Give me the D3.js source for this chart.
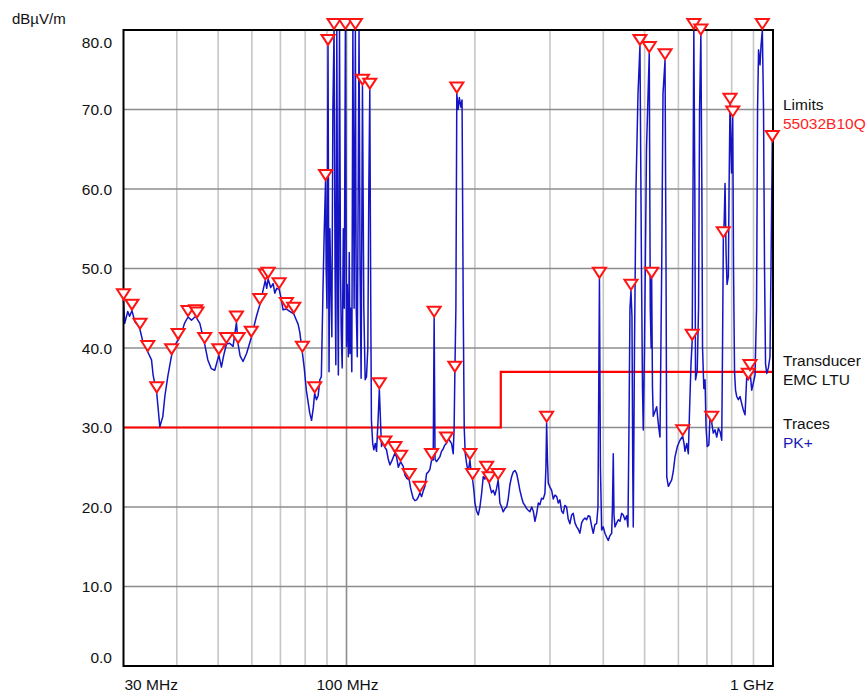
<!DOCTYPE html>
<html>
<head>
<meta charset="utf-8">
<script src="https://cdn.jsdelivr.net/npm/d3@7/dist/d3.min.js"></script>
<style>
  body { margin: 0; background: #ffffff; }
  text { font-family: "Liberation Sans", Arial, sans-serif; }
</style>
</head>
<body>
<div id="emc-chart"></div>
<script>
// measured peak trace (frequency in MHz, level in dBuV/m)
var traceFreq = [
  30.0, 30.2, 30.7, 31.0, 31.4, 31.9, 32.6, 32.8, 33.3, 34.2, 34.9, 35.2, 35.9, 36.5, 37.1, 37.5, 38.1, 38.9, 39.6, 40.3,
  41.0, 41.7, 42.5, 43.3, 44.3, 44.6, 45.3, 46.5, 47.3, 48.2, 49.1, 50.2, 50.9, 51.5, 52.3, 53.2, 54.2, 55.2, 55.7, 56.3,
  57.2, 58.3, 59.8, 61.5, 62.6, 64.5, 65.0, 65.5, 66.4, 67.3, 67.9, 68.6, 69.5, 70.1, 71.0, 72.3, 73.6, 75.2, 76.3, 77.0,
  77.7, 78.8, 79.6, 80.5, 82.0, 82.8, 83.6, 84.2, 85.0, 85.8, 86.6, 87.3,
  87.7, 88.1, 88.7, 89.3, 89.6, 90.0, 90.5, 91.0, 91.4, 91.9, 92.4, 92.9, 93.5, 94.0, 94.4, 94.9, 95.4, 95.7, 96.3, 96.8,
  97.2, 97.7, 98.3, 98.8, 99.4, 100.0, 100.4, 101.0, 101.5, 101.9, 102.3, 102.9, 103.5, 104.2, 104.9, 105.4, 106.0, 107.0,
  107.6, 108.2, 109.0, 109.8, 110.6, 111.4, 112.2, 112.8, 113.4, 114.0, 114.4, 115.2, 115.9,
  116.8, 117.6, 118.6, 119.4, 120.3, 120.8, 121.7, 123.0, 124.1, 125.3, 126.4, 127.7, 129.9, 131.0, 132.3, 133.9, 135.8,
  137.1, 138.5, 140.3, 141.2, 141.9, 143.3, 144.7, 146.0, 147.2, 148.6, 150.0, 151.3, 152.7, 154.1, 155.5, 156.8, 158.3,
  159.7, 160.5, 161.3, 162.6, 164.0, 165.5, 167.0, 168.5, 170.0, 171.6, 173.2, 174.7, 176.3, 177.9, 178.8, 179.5, 180.5,
  181.4, 182.7, 183.9, 185.4, 186.6, 187.8, 188.8, 189.8, 191.2, 192.9, 194.7, 196.5, 197.6, 199.0, 200.0, 201.9, 203.7,
  205.5, 207.4, 209.2, 211.1, 213.1, 214.6, 216.1, 216.9, 218.9, 220.8, 222.8, 224.8, 226.8, 227.9, 228.9, 231.0, 233.0,
  235.2, 237.4, 239.4, 241.6, 243.8, 246.0, 248.3, 250.6, 252.8, 255.0, 257.4, 259.6, 262.0, 264.4, 266.7, 269.2, 271.7,
  274.1, 276.6, 279.2, 281.6, 284.1, 286.7, 289.2, 291.9, 293.5, 294.6, 295.9, 297.2, 299.9, 302.7, 305.4, 308.2, 311.1,
  313.8, 316.5,
  319.4, 322.2, 325.1, 328.1, 331.0, 334.1, 337.2, 340.1, 343.3, 346.5, 349.5, 352.6, 355.9, 359.1, 362.3, 365.6, 368.8,
  372.2, 375.6, 378.9, 382.4, 385.9, 388.7, 391.8, 393.9, 396.5, 399.9, 403.6, 407.4, 410.9, 414.7, 418.5, 420.3, 422.2,
  423.8, 426.1, 430.0, 433.8, 437.7, 441.7, 445.6, 449.7, 453.8, 457.0, 459.5, 462.0, 464.5, 467.0, 469.0, 470.3, 473.4,
  477.2, 482.5, 487.6, 491.6, 494.3, 496.4, 499.7, 505.1, 512.7, 515.5, 518.0, 519.4, 521.7, 523.9, 528.8, 533.7, 538.3,
  543.3, 548.3, 552.2, 558.3, 561.3, 563.5, 568.4, 573.4, 578.7, 583.8, 589.2, 596.6, 605.2, 614.1, 618.4, 621.8, 627.6,
  633.1, 637.2, 642.3, 646.5, 649.3, 652.2, 655.7, 658.2, 664.3, 669.0, 672.7, 677.4, 681.1, 683.6, 688.4, 692.9, 696.7,
  701.2, 707.3, 711.7, 718.3, 724.5, 731.3, 738.0, 744.5, 751.2, 758.2, 761.5, 764.8, 768.5, 771.9, 776.1, 780.3, 785.8,
  788.8, 792.9, 799.4, 804.6, 808.1, 812.5, 816.9, 822.2, 829.4, 836.9, 844.6, 852.0, 859.9, 867.8, 875.4, 883.3, 891.5,
  899.3, 907.6, 915.0, 920.0, 925.0, 932.3, 937.4, 944.0, 950.2, 955.3, 960.5, 966.8, 975.3, 983.9, 989.2, 996.2, 1000
];
var traceLevel = [
  46.0, 43.1, 44.6, 44.0, 44.7, 43.3, 42.7, 42.3, 40.8, 39.5, 38.5, 36.6, 34.3, 30.1, 31.4, 33.9, 36.4, 39.1, 40.4, 41.0,
  41.8, 43.1, 43.9, 43.5, 44.0, 43.7, 43.1, 40.5, 38.5, 37.4, 37.2, 39.1, 37.6, 39.0, 40.5, 40.6, 40.2, 43.2, 40.5, 39.0,
  38.3, 39.3, 41.3, 44.0, 45.4, 48.5, 47.5, 48.7, 47.6, 48.1, 46.9, 47.5, 47.4, 46.5, 44.8, 44.9, 44.6, 44.3, 43.5, 43.0,
  42.0, 39.4, 37.5, 34.7, 31.8, 30.9, 32.5, 34.3, 33.5, 34.0, 36.0, 36.4,
  42.0, 47.7, 55.0, 61.0, 50.0, 45.0, 78.0, 37.0, 55.0, 48.0, 41.4, 70.0, 84.0, 50.0, 37.9, 84.0, 45.0, 36.6, 84.0, 50.0,
  42.0, 37.5, 55.0, 45.0, 84.0, 40.2, 48.0, 38.9, 52.0, 39.3, 45.0, 37.0, 84.0, 45.0, 84.0, 45.0, 38.9, 84.0,
  50.0, 36.2, 73.0, 45.0, 36.0, 36.4, 40.0, 60.0, 72.5, 45.0, 30.9, 28.0, 27.2,
  28.0, 27.0, 31.0, 34.8, 30.0, 27.6, 28.2, 27.5, 27.2, 26.0, 25.3, 25.8, 26.8, 26.3, 25.0, 25.7, 25.1,
  24.0, 23.6, 23.4, 22.5, 22.0, 21.1, 20.8, 20.9, 21.2, 21.8, 21.3, 22.0, 22.6, 24.2, 24.4, 24.7, 25.9,
  25.9, 43.8, 26.0, 25.7, 26.0, 26.3, 27.0, 27.3, 27.8, 28.0, 28.8, 28.3, 28.0, 26.7, 30.0, 36.9, 45.0,
  72.0, 70.0, 71.5, 70.3, 71.2, 45.0, 30.0, 26.8, 25.5, 24.4, 25.9, 23.8, 23.4, 22.0, 20.5, 19.5, 19.0,
  20.0, 21.7, 23.8, 23.5, 24.3, 23.3, 23.0, 22.6, 21.8, 22.1, 21.5, 22.3, 23.4, 22.0, 20.5, 20.0, 19.4,
  19.8, 20.0, 21.0, 22.8, 23.8, 24.4, 24.6, 24.2, 23.2, 22.1, 21.2, 20.5, 20.2, 19.8, 19.6, 19.4, 20.0,
  19.5, 18.2, 19.2, 20.5, 20.3, 21.1, 21.0, 21.7, 25.0, 30.6, 26.0, 23.0, 22.5, 22.1, 21.0, 21.5, 21.3,
  20.5, 20.9,
  19.5, 19.2, 20.2, 20.0, 18.5, 17.9, 19.0, 19.2, 18.0, 17.5, 17.2, 16.7, 18.0, 18.4, 18.6, 18.4, 18.9,
  18.8, 17.6, 16.7, 17.8, 17.9, 20.0, 48.7, 25.0, 17.1, 17.5, 16.7, 16.2, 15.8, 16.4, 16.7, 20.0, 26.7,
  19.0, 17.5, 18.0, 18.4, 18.2, 19.2, 19.0, 18.4, 18.9, 17.5, 30.0, 45.0, 47.2, 44.0, 25.0, 17.5, 40.0,
  60.0, 72.0, 78.0, 50.0, 35.0, 29.7, 40.0, 65.0, 77.1, 45.0, 40.0, 48.7, 35.0, 31.4, 32.0, 32.6, 30.5,
  28.8, 50.0, 72.0, 76.2, 50.0, 23.8, 22.6, 23.0, 23.4, 24.5, 26.3, 27.6, 28.4, 28.9, 28.0, 27.0, 28.0,
  26.7, 32.0, 38.0, 40.9, 60.0, 84.0, 60.0, 36.0, 37.2, 45.0, 70.0, 79.3, 60.0, 40.0, 34.9, 36.0, 30.0,
  27.6, 27.8, 31.4, 30.6, 29.3, 29.7, 28.8, 29.9, 29.5, 28.4, 40.0, 53.8, 56.0, 60.7, 52.0, 48.0, 49.0,
  60.0, 70.6, 62.0, 69.0, 50.0, 37.0, 34.7, 33.9, 33.5, 33.9, 33.0, 32.2, 31.6, 36.4, 36.0, 37.1, 34.7,
  35.6, 36.6, 45.0, 70.0, 77.5, 75.6, 78.0, 84.0, 70.0, 50.0, 38.0, 36.8, 37.5, 38.9, 50.0, 65.9, 64.0
];

// peak markers
var markerFreq = [
  30.0, 31.4, 32.8, 34.2, 35.9, 38.9, 40.3, 42.5, 44.3, 44.6, 46.5, 50.2, 52.3, 55.2, 55.7, 59.8, 62.6, 64.5, 65.5,
  69.5, 72.3, 75.2, 78.8, 84.2, 89.3, 90.5, 93.5, 99.4, 104.9, 109.0, 113.4, 119.4, 123.0, 129.9, 133.9, 140.3,
  148.6, 158.3, 160.5, 171.6, 179.5, 181.4, 194.7, 197.6, 213.1, 216.1, 226.8, 294.6, 391.8, 464.5, 487.6, 512.7,
  519.4, 558.3, 614.1, 646.5, 652.2, 677.4, 718.3, 764.8, 792.9, 804.6, 875.4, 883.3, 944.0, 996.2
];
var markerLevel = [
  46.0, 44.7, 42.3, 39.5, 34.3, 39.1, 41.0, 43.9, 44.0, 43.7, 40.5, 39.1, 40.5, 43.2, 40.5, 41.3, 45.4, 48.5, 48.7,
  47.4, 44.9, 44.3, 39.4, 34.3, 61.0, 78.0, 84.0, 84.0, 84.0, 73.0, 72.5, 34.8, 27.5, 26.8, 25.7, 23.4,
  21.8, 25.9, 43.8, 28.0, 36.9, 72.0, 25.9, 23.4, 24.3, 23.0, 23.4, 30.6, 48.7, 47.2, 78.0, 77.1,
  48.7, 76.2, 28.9, 40.9, 84.0, 79.3, 30.6, 53.8, 70.6, 69.0, 36.0, 37.1, 84.0, 65.9
];

// limit line 55032B10Q
var limitFreq = [30, 230, 230, 1000];
var limitLevel = [30, 30, 37, 37];

// axes
var yTicks = [0, 10, 20, 30, 40, 50, 60, 70, 80];
var xGridMinor = [40, 50, 60, 70, 80, 90, 200, 300, 400, 500, 600, 700, 800, 900];
var xGridMajor = [100];
var xLabelFreq = [30, 100, 1000];
var xLabelText = ["30 MHz", "100 MHz", "1 GHz"];
var unitLabel = "dB\u00b5V/m";
var legendHead = ["Limits", "Transducer", "Traces"];
var legendValue = ["55032B10Q", "EMC LTU", "PK+"];

function drawEmcChart() {
  var W = 867, H = 695;
  var margin = { top: 30, right: 94, bottom: 29, left: 123.5 };
  var left = margin.left, right = W - margin.right;
  var top = margin.top, bottom = H - margin.bottom;

  var svg = d3.select("div#emc-chart")
    .append("svg")
    .attr("width", W)
    .attr("height", H);

  var x = d3.scaleLog().domain([30, 1000]).range([left, right]);
  var y = d3.scaleLinear().domain([0, 80]).range([bottom, top]).clamp(true);

  // grid
  svg.selectAll("minorGrid")
    .data(xGridMinor)
    .enter()
    .append("line")
    .attr("x1", function (d) { return x(d); })
    .attr("x2", function (d) { return x(d); })
    .attr("y1", top)
    .attr("y2", bottom)
    .attr("stroke", "#c6c6c6")
    .attr("stroke-width", 1.6);

  svg.selectAll("majorGrid")
    .data(xGridMajor)
    .enter()
    .append("line")
    .attr("x1", function (d) { return x(d); })
    .attr("x2", function (d) { return x(d); })
    .attr("y1", top)
    .attr("y2", bottom)
    .attr("stroke", "#8c8c8c")
    .attr("stroke-width", 1.6);

  svg.selectAll("hGrid")
    .data(yTicks.filter(function (d) { return d > 0 && d < 80; }))
    .enter()
    .append("line")
    .attr("x1", left)
    .attr("x2", right)
    .attr("y1", function (d) { return y(d); })
    .attr("y2", function (d) { return y(d); })
    .attr("stroke", "#8c8c8c")
    .attr("stroke-width", 1.6);

  // y labels, end labels pushed inside the frame
  svg.selectAll("yLabels")
    .data(yTicks)
    .enter()
    .append("text")
    .attr("x", 112)
    .attr("y", function (d) { return Math.min(Math.max(y(d), top + 12.5), bottom - 9) + 5.5; })
    .attr("text-anchor", "end")
    .style("font-size", "15.5px")
    .style("fill", "#111")
    .text(function (d) { return d.toFixed(1); });

  svg.append("text")
    .attr("x", 12)
    .attr("y", 24)
    .style("font-size", "15px")
    .style("fill", "#111")
    .text(unitLabel);

  // x labels: first left aligned, last right aligned
  svg.selectAll("xLabels")
    .data(xLabelFreq)
    .enter()
    .append("text")
    .attr("x", function (d) { return x(d) + 1; })
    .attr("y", 690)
    .attr("text-anchor", function (d, i) { return i == 0 ? "start" : (i == 2 ? "end" : "middle"); })
    .style("font-size", "15.5px")
    .style("fill", "#111")
    .text(function (d, i) { return xLabelText[i]; });

  // limit line
  var limitLine = d3.line()
    .x(function (d) { return x(d[0]); })
    .y(function (d) { return y(d[1]); });
  svg.append("path")
    .datum(d3.zip(limitFreq, limitLevel))
    .attr("d", limitLine)
    .attr("fill", "none")
    .attr("stroke", "#ff0000")
    .attr("stroke-width", 2.2);

  // trace
  var traceLine = d3.line()
    .x(function (d) { return x(d[0]); })
    .y(function (d) { return y(d[1]); });
  svg.append("path")
    .datum(d3.zip(traceFreq, traceLevel))
    .attr("d", traceLine)
    .attr("fill", "none")
    .attr("stroke", "#1414c4")
    .attr("stroke-width", 1.5)
    .attr("stroke-linejoin", "round");

  // frame
  svg.append("rect")
    .attr("x", left)
    .attr("y", top)
    .attr("width", right - left)
    .attr("height", bottom - top)
    .attr("fill", "none")
    .attr("stroke", "#000")
    .attr("stroke-width", 2);

  // markers: open triangles, tip on the peak
  svg.selectAll("markers")
    .data(d3.zip(markerFreq, markerLevel))
    .enter()
    .append("path")
    .attr("d", function (d) {
      var px = x(d[0]), py = y(d[1]) - 1;
      return "M" + (px - 6.5) + "," + (py - 10) + "L" + (px + 6.5) + "," + (py - 10) + "L" + px + "," + py + "Z";
    })
    .attr("fill", "#fff")
    .attr("stroke", "#ff1414")
    .attr("stroke-width", 2)
    .attr("stroke-linejoin", "miter");

  // legend on the right
  var headY = [109.5, 366, 429];
  var legendColor = ["#ff2424", "#111", "#1a1ab8"];
  svg.selectAll("legendHead")
    .data(legendHead)
    .enter()
    .append("text")
    .attr("x", 783)
    .attr("y", function (d, i) { return headY[i]; })
    .style("font-size", "15.5px")
    .style("fill", "#111")
    .text(function (d) { return d; });
  svg.selectAll("legendValue")
    .data(legendValue)
    .enter()
    .append("text")
    .attr("x", 783)
    .attr("y", function (d, i) { return headY[i] + 19; })
    .style("font-size", "15.5px")
    .style("fill", function (d, i) { return legendColor[i]; })
    .text(function (d) { return d; });
}

drawEmcChart();
</script>
</body>
</html>
